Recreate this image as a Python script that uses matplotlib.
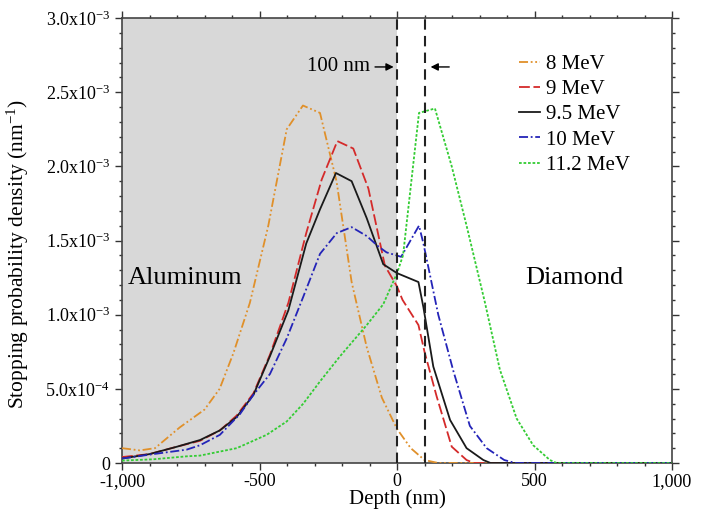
import matplotlib
matplotlib.use('Agg')
import matplotlib.pyplot as plt
from matplotlib.ticker import FuncFormatter, MultipleLocator

plt.rcParams['font.family'] = ['Liberation Serif', 'DejaVu Serif']

# Stopping probability density, values in units of 1e-3 nm^-1, depth in nm
depth_8 = [-1000, -935, -880, -790, -700, -645, -595, -535, -468, -401, -342, -280,
           -220, -165, -110, -55, 0, 50, 100, 150, 1000]
val_8 = [0.10, 0.085, 0.10, 0.24, 0.36, 0.50, 0.74, 1.08, 1.60, 2.25, 2.41, 2.36,
         1.90, 1.22, 0.78, 0.44, 0.23, 0.10, 0.02, 0.0, 0.0]

depth_9 = [-1000, -900, -800, -716, -644, -583, -522, -462, -395, -330, -274, -217,
           -159, -104, -44, 0, 20, 78, 100, 144, 199, 253, 280, 1000]
val_9 = [0.04, 0.06, 0.11, 0.15, 0.22, 0.32, 0.47, 0.73, 1.08, 1.55, 1.91, 2.17,
         2.12, 1.85, 1.33, 1.19, 1.10, 0.93, 0.75, 0.45, 0.11, 0.02, 0.0, 0.0]

depth_95 = [-1000, -900, -800, -716, -644, -583, -522, -462, -395, -330, -280, -222,
            -165, -110, -50, 0, 78, 96, 132, 193, 253, 314, 340, 1000]
val_95 = [0.03, 0.06, 0.11, 0.155, 0.22, 0.31, 0.46, 0.72, 1.03, 1.48, 1.71, 1.955,
          1.90, 1.65, 1.34, 1.28, 1.22, 1.05, 0.65, 0.29, 0.10, 0.02, 0.0, 0.0]

depth_10 = [-1000, -886, -765, -716, -644, -571, -522, -462, -401, -341, -280, -219,
            -165, -110, -68, -38, 15, 80, 96, 150, 205, 265, 326, 390, 430, 1000]
val_10 = [0.03, 0.06, 0.09, 0.12, 0.19, 0.33, 0.46, 0.60, 0.84, 1.12, 1.41, 1.55,
          1.59, 1.53, 1.46, 1.42, 1.39, 1.60, 1.48, 1.00, 0.62, 0.25, 0.10, 0.02, 0.0, 0.0]

depth_112 = [-1000, -886, -765, -716, -583, -474, -401, -341, -280, -207, -110, -50,
             0, 22, 80, 138, 199, 253, 320, 374, 435, 495, 556, 580, 1000]
val_112 = [0.016, 0.025, 0.045, 0.05, 0.10, 0.19, 0.28, 0.40, 0.55, 0.72, 0.93, 1.07,
           1.28, 1.40, 2.36, 2.39, 2.00, 1.60, 1.08, 0.63, 0.30, 0.12, 0.02, 0.0, 0.0]

labels = ['8 MeV', '9 MeV', '9.5 MeV', '10 MeV', '11.2 MeV']
interfaces = [0, 100]  # Al/diamond boundary and 100 nm marker

fig = plt.figure(figsize=(7.15, 5.12), dpi=100)
ax = fig.add_axes([122 / 715, 49 / 512, 550 / 715, 445 / 512])

# aluminum side shaded
ax.axvspan(-1000, interfaces[0], color='#d8d8d8', lw=0, zorder=0)

series = [
    (depth_8, val_8, '#e0902a', (0, (5, 1.5, 1, 1.5, 1, 1.5))),
    (depth_9, val_9, '#d42a2a', (0, (6, 2))),
    (depth_95, val_95, '#1a1a1a', '-'),
    (depth_10, val_10, '#2424b8', (0, (5, 1.5, 1, 1.5))),
    (depth_112, val_112, '#33cc33', (0, (1.5, 1))),
]
for (d, v, c, ls), lab in zip(series, labels):
    ax.plot(d, [x * 1e-3 for x in v], color=c, linestyle=ls, lw=1.3, label=lab, zorder=3)

for xi in interfaces:
    ax.axvline(xi, color='#222222', linestyle=(0, (5, 3)), lw=1.5, zorder=4)

ax.set_xlim(-1000, 1000)
ax.set_ylim(0, 3.0e-3)

def ylab(v, pos):
    if abs(v) < 1e-12:
        return '0'
    if v < 0.9e-3:
        return r'$\mathregular{%.1fx10^{-4}}$' % (v * 1e4)
    return r'$\mathregular{%.1fx10^{-3}}$' % (v * 1e3)

ax.xaxis.set_major_locator(MultipleLocator(500))
ax.xaxis.set_minor_locator(MultipleLocator(100))
ax.yaxis.set_major_locator(MultipleLocator(0.5e-3))
ax.yaxis.set_minor_locator(MultipleLocator(0.1e-3))
ax.xaxis.set_major_formatter(FuncFormatter(lambda v, p: f'{int(round(v)):,}'))
ax.yaxis.set_major_formatter(FuncFormatter(ylab))
ax.tick_params(which='both', direction='out', top=True, right=True,
               labelsize=13, colors='#333333', labelcolor='black')
ax.tick_params(which='major', length=5, width=1)
ax.tick_params(axis='x', which='major', pad=2)
ax.tick_params(which='minor', length=2.5, width=1)
for s in ax.spines.values():
    s.set_color('#444444')
    s.set_linewidth(1.2)

ax.set_xlabel('Depth (nm)', fontsize=15, labelpad=0)
ax.set_ylabel(r'Stopping probability density (nm$\mathregular{^{-1}}$)', fontsize=15.5)
ax.yaxis.set_label_coords(-0.165, 0.47)

ax.text(-978, 1.25e-3, 'Aluminum', fontsize=19, va='center', ha='left')
ax.text(644, 1.25e-3, 'Diamond', fontsize=19, va='center', ha='center')

ax.text(-98, 2.67e-3, '100 nm', fontsize=15, va='center', ha='right')
ax.annotate('', xy=(interfaces[0] - 2, 2.67e-3), xytext=(-90, 2.67e-3),
            arrowprops=dict(arrowstyle='-|>', color='black', lw=1, mutation_scale=11))
ax.annotate('', xy=(interfaces[1] + 12, 2.67e-3), xytext=(200, 2.67e-3),
            arrowprops=dict(arrowstyle='-|>', color='black', lw=1, mutation_scale=11))

ax.legend(loc='upper left', bbox_to_anchor=(0.722, 0.918), frameon=False, fontsize=15,
          handlelength=1.0, handletextpad=0.3, labelspacing=0.27, borderpad=0,
          borderaxespad=0)

fig.savefig('out.png', dpi=100)
